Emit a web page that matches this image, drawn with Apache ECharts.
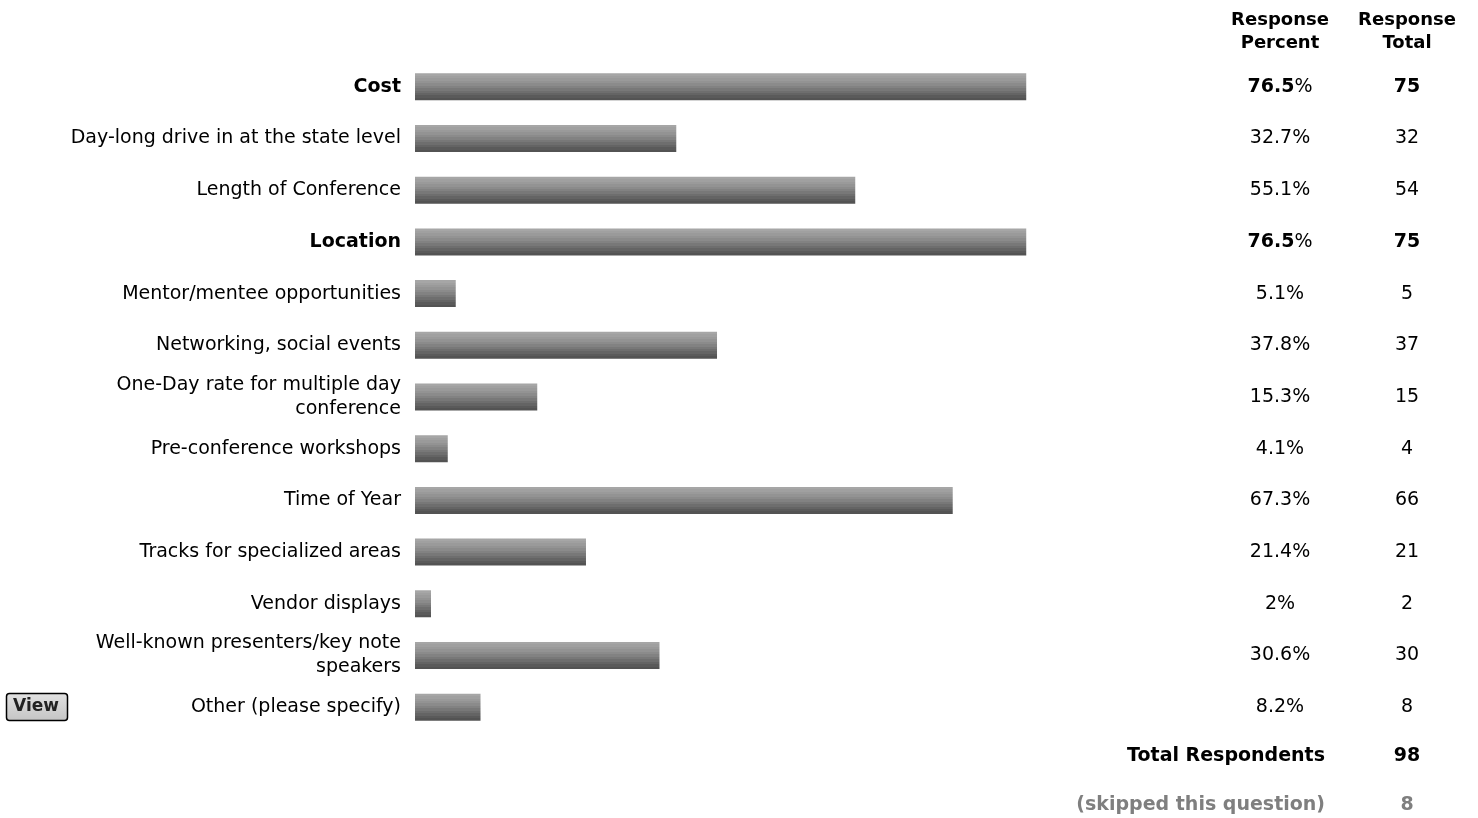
<!DOCTYPE html>
<html><head><meta charset="utf-8">
<script src="https://cdn.jsdelivr.net/npm/echarts@6/dist/echarts.min.js"></script>
<style>html,body{margin:0;padding:0;background:#fff}#c{width:1478px;height:818px}</style>
</head><body><div id="c"></div>
<script>
var categories = ["Cost","Day-long drive in at the state level","Length of Conference","Location","Mentor/mentee opportunities","Networking, social events","One-Day rate for multiple day\nconference","Pre-conference workshops","Time of Year","Tracks for specialized areas","Vendor displays","Well-known presenters/key note\nspeakers","Other (please specify)"];
var percents = [76.5,32.7,55.1,76.5,5.1,37.8,15.3,4.1,67.3,21.4,2,30.6,8.2];
var totals = [75,32,54,75,5,37,15,4,66,21,2,30,8];
var totalRespondents = 98;
var skipped = 8;

var maxP = Math.max.apply(null, percents);
var FONT = '"DejaVu Sans", Verdana, sans-serif';
var FS = 19;
function isTop(i){ return percents[i] === maxP; }

var shades = ['#a6a6a6','#a0a0a0','#9a9a9a','#939393','#8b8b8b','#828282','#787878','#6e6e6e','#646464','#5a5a5a','#535353'];
var stops = [];
shades.forEach(function(c,i){ stops.push({offset:i/shades.length,color:c}); stops.push({offset:(i+1)/shades.length-0.0001,color:c}); });
var boldRich = {b:{fontWeight:'bold',fontFamily:FONT,fontSize:FS,color:'#000'}};

var chart = echarts.init(document.getElementById('c'));
chart.setOption({
  animation:false,
  grid:{left:415,right:264,top:61,bottom:85},
  xAxis:{type:'value',min:0,max:100,show:false},
  yAxis:[
    {type:'category',inverse:true,data:categories,axisLine:{show:false},axisTick:{show:false},
     axisLabel:{margin:14,fontFamily:FONT,fontSize:FS,color:'#000',lineHeight:24,align:'right',
       formatter:function(v){var i=categories.indexOf(v);return isTop(i)?'{b|'+v+'}':v;},
       rich:boldRich}},
    {type:'category',inverse:true,position:'right',data:percents.map(String),axisLine:{show:false},axisTick:{show:false},
     axisLabel:{margin:66,align:'center',fontFamily:FONT,fontSize:FS,color:'#000',
       formatter:function(v,i){return isTop(i)?'{b|'+percents[i]+'}%':percents[i]+'%';},
       rich:boldRich}},
    {type:'category',inverse:true,position:'right',data:totals.map(String),axisLine:{show:false},axisTick:{show:false},
     axisLabel:{margin:193,align:'center',fontFamily:FONT,fontSize:FS,color:'#000',
       formatter:function(v,i){return isTop(i)?'{b|'+totals[i]+'}':String(totals[i]);},
       rich:boldRich}}
  ],
  series:[{type:'bar',data:percents,barWidth:27,
    itemStyle:{color:{type:'linear',x:0,y:0,x2:0,y2:1,colorStops:stops}}}],
  graphic:[
    {type:'text',style:{x:1280,y:9,text:'Response\nPercent',font:'bold 18px '+FONT,fill:'#000',align:'center',verticalAlign:'top',lineHeight:23}},
    {type:'text',style:{x:1407,y:9,text:'Response\nTotal',font:'bold 18px '+FONT,fill:'#000',align:'center',verticalAlign:'top',lineHeight:23}},
    {type:'text',style:{x:1325,y:756,text:'Total Respondents',font:'bold '+FS+'px '+FONT,fill:'#000',align:'right',verticalAlign:'middle'}},
    {type:'text',style:{x:1407,y:756,text:String(totalRespondents),font:'bold '+FS+'px '+FONT,fill:'#000',align:'center',verticalAlign:'middle'}},
    {type:'text',style:{x:1325,y:805,text:'(skipped this question)',font:'bold '+FS+'px '+FONT,fill:'#7f7f7f',align:'right',verticalAlign:'middle'}},
    {type:'text',style:{x:1407,y:805,text:String(skipped),font:'bold '+FS+'px '+FONT,fill:'#7f7f7f',align:'center',verticalAlign:'middle'}},
    {type:'rect',shape:{x:6.5,y:693.5,width:61,height:27,r:3},style:{fill:{type:'linear',x:0,y:0,x2:0,y2:1,colorStops:[{offset:0,color:'#e2e2e2'},{offset:1,color:'#c4c4c4'}]},stroke:'#000',lineWidth:1.5}},
    {type:'text',style:{x:36,y:707,text:'View',font:'bold 17px '+FONT,fill:'#222',align:'center',verticalAlign:'middle'}}
  ]
});
</script></body></html>
